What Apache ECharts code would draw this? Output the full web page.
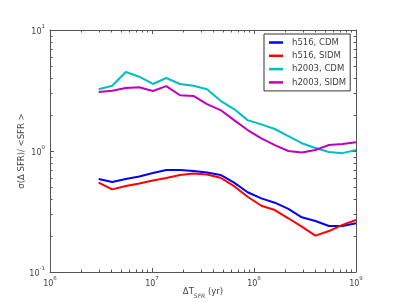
<!DOCTYPE html>
<html><head><meta charset="utf-8">
<script src="https://cdn.jsdelivr.net/npm/echarts@6/dist/echarts.min.js"></script>
<style>html,body{margin:0;padding:0;background:#fff}#c{width:395px;height:302px}</style>
</head><body><div id="c"></div>
<script>
const xVals = [3.0e6, 4.07e6, 5.53e6, 7.5e6, 1.02e7, 1.38e7, 1.88e7, 2.55e7, 3.46e7, 4.7e7,
               6.38e7, 8.66e7, 1.18e8, 1.6e8, 2.17e8, 2.94e8, 4.0e8, 5.43e8, 7.37e8, 1.0e9];
const h516CDM = [0.587, 0.554, 0.587, 0.616, 0.658, 0.697, 0.697, 0.684, 0.664, 0.634,
                 0.548, 0.456, 0.406, 0.374, 0.332, 0.283, 0.264, 0.240, 0.240, 0.253];
const h516SIDM = [0.547, 0.482, 0.514, 0.539, 0.570, 0.598, 0.633, 0.652, 0.640, 0.601,
                  0.512, 0.419, 0.353, 0.325, 0.278, 0.237, 0.200, 0.218, 0.245, 0.269];
const h2003CDM = [3.24, 3.46, 4.50, 4.11, 3.58, 4.01, 3.58, 3.46, 3.24, 2.60,
                  2.22, 1.80, 1.66, 1.52, 1.33, 1.16, 1.06, 0.98, 0.96, 1.02];
const h2003SIDM = [3.07, 3.15, 3.32, 3.36, 3.13, 3.44, 2.89, 2.85, 2.44, 2.18,
                   1.80, 1.49, 1.27, 1.12, 1.00, 0.97, 1.02, 1.12, 1.14, 1.18];
const seriesNames = ['h516, CDM', 'h516, SIDM', 'h2003, CDM', 'h2003, SIDM'];
const seriesColors = ['#0000ff', '#ff0000', '#00bfbf', '#bf00bf'];
const xMinorTicks = [2e6,3e6,4e6,5e6,6e6,7e6,8e6,9e6,2e7,3e7,4e7,5e7,6e7,7e7,8e7,9e7,2e8,3e8,4e8,5e8,6e8,7e8,8e8,9e8];
const yMinorTicks = [0.2,0.3,0.4,0.5,0.6,0.7,0.8,0.9,2,3,4,5,6,7,8,9];
const X_MIN = 1e6, X_MAX = 1e9, Y_MIN = 0.1, Y_MAX = 10;

const txt = '#444';
const axisCol = '#555';
function expLabel(v) {
  const e = Math.round(Math.log10(v));
  return '{b|10}{s|' + e + '}';
}
const rich = {
  b: {fontSize: 8, color: txt, fontFamily: 'DejaVu Sans', lineHeight: 12, verticalAlign: 'bottom'},
  s: {fontSize: 5.5, color: txt, fontFamily: 'DejaVu Sans', lineHeight: 12, verticalAlign: 'top'}
};
const pairs = arr => arr.map((v, i) => [xVals[i], v]);
const datas = [h516CDM, h516SIDM, h2003CDM, h2003SIDM];

const chart = echarts.init(document.getElementById('c'));
const lineSeries = datas.map((d, i) => ({
  name: seriesNames[i], type: 'line', data: pairs(d), showSymbol: false, symbol: 'none',
  lineStyle: {color: seriesColors[i], width: 2}, itemStyle: {color: seriesColors[i]}, z: 5,
  xAxisIndex: 0, yAxisIndex: 0
}));
const minorSeries = {
  type: 'custom', silent: true, z: 3, xAxisIndex: 0, yAxisIndex: 0,
  data: xMinorTicks.map(v => [v, 0]).concat(yMinorTicks.map(v => [0, v])),
  renderItem: function (params, api) {
    const a = api.value(0), b = api.value(1);
    const L = 2.5;
    const st = {stroke: axisCol, lineWidth: 1};
    if (a > 0) {
      const p0 = api.coord([a, Y_MIN]), p1 = api.coord([a, Y_MAX]);
      const x = Math.round(p0[0]) + 0.5;
      return {type: 'group', children: [
        {type: 'line', shape: {x1: x, y1: p0[1], x2: x, y2: p0[1] - L}, style: st},
        {type: 'line', shape: {x1: x, y1: p1[1], x2: x, y2: p1[1] + L}, style: st}
      ]};
    } else {
      const p0 = api.coord([X_MIN, b]), p1 = api.coord([X_MAX, b]);
      const y = Math.round(p0[1]) + 0.5;
      return {type: 'group', children: [
        {type: 'line', shape: {x1: p0[0], y1: y, x2: p0[0] + L, y2: y}, style: st},
        {type: 'line', shape: {x1: p1[0], y1: y, x2: p1[0] - L, y2: y}, style: st}
      ]};
    }
  }
};
const baseAxis = {
  type: 'log', logBase: 10,
  axisLine: {show: true, lineStyle: {color: axisCol, width: 1}},
  axisTick: {show: true, inside: true, length: 4, lineStyle: {color: axisCol}},
  splitLine: {show: false}
};
chart.setOption({
  animation: false,
  grid: {left: 50, right: 39, top: 30, bottom: 30, containLabel: false, outerBoundsMode: 'none'},
  legend: {
    data: seriesNames, orient: 'vertical', left: 264, top: 34,
    width: 87, height: 54,
    icon: 'rect', itemWidth: 14, itemHeight: 2.5, itemGap: 4.3,
    borderColor: '#333', borderWidth: 1, padding: [4, 4, 4, 5],
    textStyle: {fontSize: 8.5, color: txt, fontFamily: 'DejaVu Sans', padding: [0, 0, 0, 4]}
  },
  xAxis: [
    Object.assign({}, baseAxis, {
      position: 'bottom', min: X_MIN, max: X_MAX,
      axisLabel: {formatter: expLabel, rich: rich, margin: 4},
      name: '{n|ΔT}{sub|SFR}{n| (yr)}', nameLocation: 'middle', nameGap: 15, nameMoveOverlap: false,
      nameTextStyle: {rich: {
        n: {fontSize: 8.5, color: txt, fontFamily: 'DejaVu Sans', lineHeight: 12, verticalAlign: 'top'},
        sub: {fontSize: 6, color: txt, fontFamily: 'DejaVu Sans', fontStyle: 'italic', lineHeight: 12, verticalAlign: 'bottom'}
      }}
    }),
    Object.assign({}, baseAxis, {position: 'top', min: X_MIN, max: X_MAX, axisLabel: {show: false}})
  ],
  yAxis: [
    Object.assign({}, baseAxis, {
      position: 'left', min: Y_MIN, max: Y_MAX,
      axisLabel: {formatter: expLabel, rich: rich, margin: 5},
      name: 'σ(Δ SFR)/ <SFR >', nameLocation: 'middle', nameGap: 24, nameRotate: 90, nameMoveOverlap: false,
      nameTextStyle: {fontSize: 8.5, color: txt, fontFamily: 'DejaVu Sans'}
    }),
    Object.assign({}, baseAxis, {position: 'right', min: Y_MIN, max: Y_MAX, axisLabel: {show: false}})
  ],
  series: lineSeries.concat([minorSeries])
});
</script></body></html>
